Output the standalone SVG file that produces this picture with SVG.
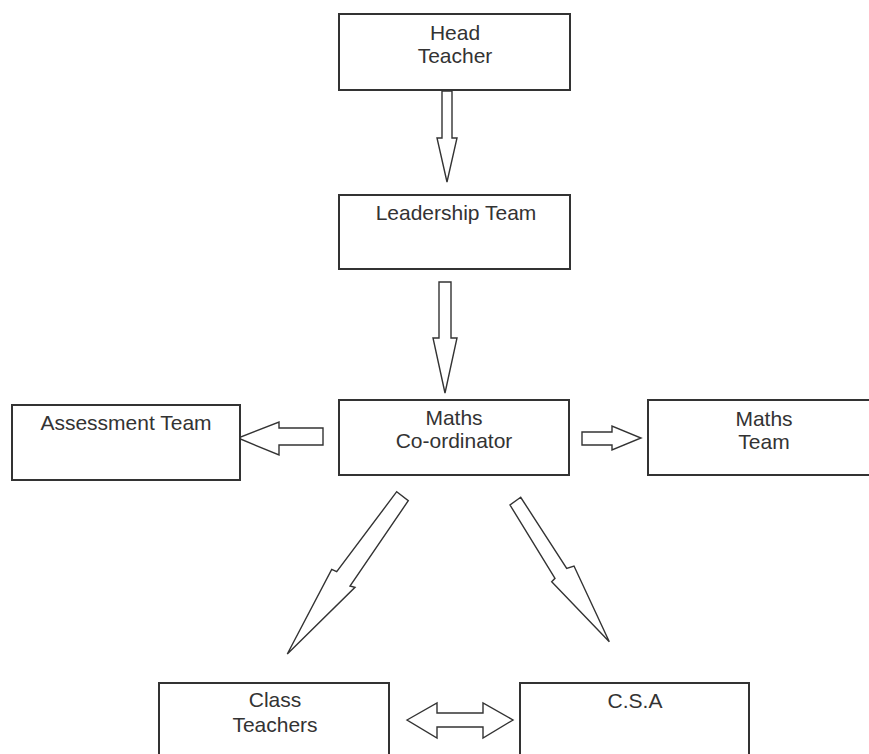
<svg xmlns="http://www.w3.org/2000/svg" width="869" height="754" viewBox="0 0 869 754">
<style>
.box{fill:#fff;stroke:#333;stroke-width:2}
.arr{fill:#fff;stroke:#333;stroke-width:1.4;stroke-linejoin:miter}
text{font-family:"Liberation Sans",Arial,sans-serif;font-size:21px;fill:#333;text-anchor:middle}
</style>
<rect width="869" height="754" fill="#fff"/>
<g id="connectors">
<polygon class="arr" points="442,91 452,91 452,138 457,138 447,182 437,138 442,138"/>
<polygon class="arr" points="439,282 451,282 451,338 457,338 445,393 433,338 439,338"/>
<polygon class="arr" points="323,428 323,445 279,445 279,455 238,438 279,422 279,428"/>
<polygon class="arr" points="582,432 612,432 612,426 641,438 612,450 612,445 582,445"/>
<polygon class="arr" points="396.7,491.7 408.3,500.7 350,586 355,587.3 287.3,654 331.7,569.3 336.7,571.7"/>
<polygon class="arr" points="520.7,497.3 510,505 555,578.3 551.7,581.7 609.3,641.7 574,566 566.7,568.3"/>
<polygon class="arr" points="407,720 437,703 437,713 483,713 483,703 513,720 483,738 483,727 437,727 437,738"/>
</g>
<g id="head-teacher">
<rect class="box" x="339" y="14" width="231" height="76"/>
<text x="455" y="40">Head</text>
<text x="455" y="63">Teacher</text>
</g>
<g id="leadership-team">
<rect class="box" x="339" y="195" width="231" height="74"/>
<text x="456" y="220">Leadership Team</text>
</g>
<g id="maths-coordinator">
<rect class="box" x="339" y="400" width="230" height="75"/>
<text x="454" y="425">Maths</text>
<text x="454" y="448">Co-ordinator</text>
</g>
<g id="assessment-team">
<rect class="box" x="12" y="405" width="228" height="75"/>
<text x="126" y="430">Assessment Team</text>
</g>
<g id="maths-team">
<rect class="box" x="648" y="400" width="230" height="75"/>
<text x="764" y="426">Maths</text>
<text x="764" y="449">Team</text>
</g>
<g id="class-teachers">
<rect class="box" x="159" y="683" width="230" height="80"/>
<text x="275" y="707">Class</text>
<text x="275" y="732">Teachers</text>
</g>
<g id="csa">
<rect class="box" x="520" y="683" width="229" height="80"/>
<text x="635" y="708">C.S.A</text>
</g>
</svg>
